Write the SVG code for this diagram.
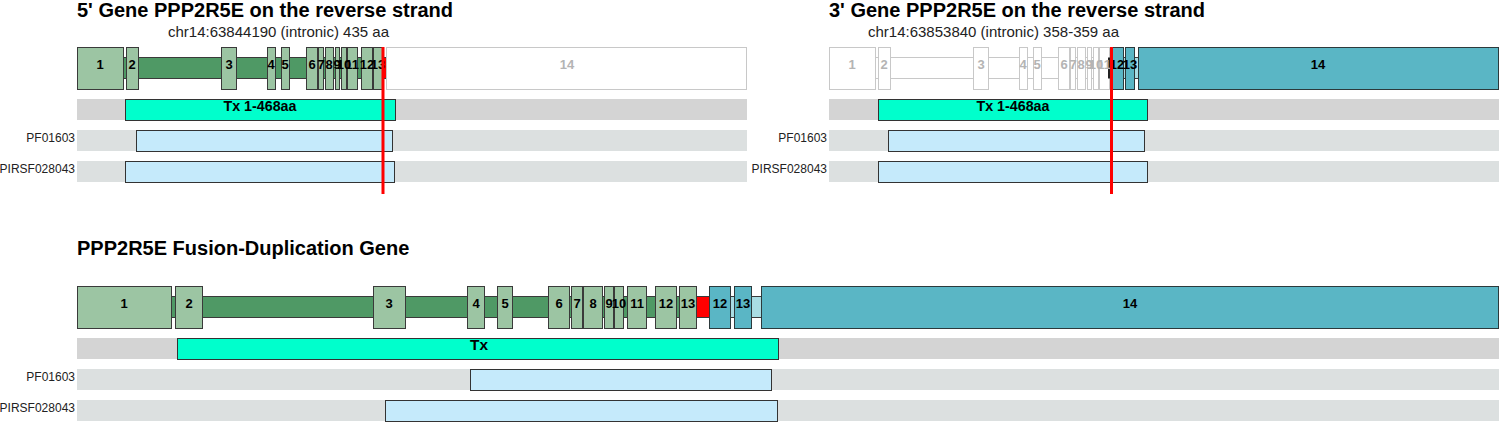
<svg xmlns="http://www.w3.org/2000/svg" width="1500" height="422" viewBox="0 0 1500 422">
<style>
text{font-family:"Liberation Sans",Arial,sans-serif}
.h{font-size:20px;font-weight:bold;fill:#000}
.sub{font-size:15px;fill:#222}
.ex{fill:#9cc5a3;stroke:#3a3a3a;stroke-width:1}
.in{fill:#4f9965;stroke:#3a3a3a;stroke-width:1}
.exo{fill:#fff;stroke:#c8c8c8;stroke-width:1}
.ext{fill:#5ab6c5;stroke:#2c3a3c;stroke-width:1}
.int{fill:#a9dde3;stroke:#3a3a3a;stroke-width:1}
.bp{fill:#ff0000;stroke:#3a3a3a;stroke-width:1}
.el{font-size:13px;font-weight:bold;text-anchor:middle;fill:#000}
.elg{font-size:13px;font-weight:bold;text-anchor:middle;fill:#b4b4b4}
.bg1{fill:#d4d4d4}
.bg2{fill:#dce0e0}
.tx{fill:#00ffcc;stroke:#333;stroke-width:1}
.dom{fill:#c5eafb;stroke:#333;stroke-width:1}
.dl{font-size:12px;text-anchor:end;fill:#222}
.tl{font-size:14px;font-weight:bold;text-anchor:middle;fill:#000}
.red{stroke:#ff0000;stroke-width:3}
</style>

<g id="titles">
<text class="h" x="77" y="17">5' Gene PPP2R5E on the reverse strand</text>
<text class="sub" x="168" y="37">chr14:63844190 (intronic) 435 aa</text>
<text class="h" x="829" y="17">3' Gene PPP2R5E on the reverse strand</text>
<text class="sub" x="868" y="37">chr14:63853840 (intronic) 358-359 aa</text>
<text class="h" x="77" y="255">PPP2R5E Fusion-Duplication Gene</text>
</g>

<g id="gene5">
<rect class="in" x="122.5" y="57.5" width="260" height="21"/>
<rect class="ex" x="77.5" y="47.5" width="46" height="42"/>
<rect class="ex" x="126.5" y="47.5" width="12" height="42"/>
<rect class="ex" x="221.5" y="47.5" width="15" height="42"/>
<rect class="ex" x="267.5" y="47.5" width="8" height="42"/>
<rect class="ex" x="281.5" y="47.5" width="8" height="42"/>
<rect class="ex" x="306.5" y="47.5" width="11" height="42"/>
<rect class="ex" x="318.5" y="47.5" width="5" height="42"/>
<rect class="ex" x="325.5" y="47.5" width="8" height="42"/>
<rect class="ex" x="335.5" y="47.5" width="4" height="42"/>
<rect class="ex" x="341.5" y="47.5" width="5" height="42"/>
<rect class="ex" x="347.5" y="47.5" width="10" height="42"/>
<rect class="ex" x="361.5" y="47.5" width="11" height="42"/>
<rect class="ex" x="373.5" y="47.5" width="9" height="42"/>
<rect class="bp" x="382.5" y="57.5" width="4" height="21"/>
<rect class="exo" x="386.5" y="47.5" width="360" height="42"/>
<text class="el" x="100" y="69">1</text>
<text class="el" x="132" y="69">2</text>
<text class="el" x="229" y="69">3</text>
<text class="el" x="271" y="69">4</text>
<text class="el" x="285" y="69">5</text>
<text class="el" x="312" y="69">6</text>
<text class="el" x="321" y="69">7</text>
<text class="el" x="329" y="69">8</text>
<text class="el" x="337" y="69">9</text>
<text class="el" x="344" y="69">10</text>
<text class="el" x="352" y="69">11</text>
<text class="el" x="367" y="69">12</text>
<text class="el" x="378" y="69">13</text>
<text class="elg" x="567" y="69">14</text>
</g>

<g id="domains5">
<rect class="bg1" x="77" y="99" width="670" height="21"/>
<rect class="tx" x="125.5" y="99.5" width="270" height="21"/>
<text class="tl" x="260" y="111" textLength="73" lengthAdjust="spacingAndGlyphs">Tx 1-468aa</text>
<rect class="bg2" x="77" y="130" width="670" height="21"/>
<rect class="dom" x="136.5" y="130.5" width="256" height="21"/>
<text class="dl" x="75" y="142">PF01603</text>
<rect class="bg2" x="77" y="161" width="670" height="21"/>
<rect class="dom" x="125.5" y="161.5" width="269" height="21"/>
<text class="dl" x="75" y="173">PIRSF028043</text>
</g>

<g id="gene3" transform="translate(752,0)">
<rect class="exo" x="122.5" y="57.5" width="238" height="21"/>
<rect class="int" x="370.5" y="57.5" width="16" height="21"/>
<rect class="exo" x="77.5" y="47.5" width="46" height="42"/>
<rect class="exo" x="126.5" y="47.5" width="12" height="42"/>
<rect class="exo" x="221.5" y="47.5" width="15" height="42"/>
<rect class="exo" x="267.5" y="47.5" width="8" height="42"/>
<rect class="exo" x="281.5" y="47.5" width="8" height="42"/>
<rect class="exo" x="306.5" y="47.5" width="11" height="42"/>
<rect class="exo" x="318.5" y="47.5" width="5" height="42"/>
<rect class="exo" x="325.5" y="47.5" width="8" height="42"/>
<rect class="exo" x="335.5" y="47.5" width="4" height="42"/>
<rect class="exo" x="341.5" y="47.5" width="5" height="42"/>
<rect class="exo" x="347.5" y="47.5" width="10" height="42"/>
<rect x="356" y="57.5" width="3.5" height="21" fill="#222"/>
<rect class="ext" x="359.5" y="47.5" width="12" height="42"/>
<rect class="ext" x="373.5" y="47.5" width="9" height="42"/>
<rect class="ext" x="386.5" y="47.5" width="360" height="42"/>
<text class="elg" x="100" y="69">1</text>
<text class="elg" x="132" y="69">2</text>
<text class="elg" x="229" y="69">3</text>
<text class="elg" x="271" y="69">4</text>
<text class="elg" x="285" y="69">5</text>
<text class="elg" x="312" y="69">6</text>
<text class="elg" x="321" y="69">7</text>
<text class="elg" x="329" y="69">8</text>
<text class="elg" x="337" y="69">9</text>
<text class="elg" x="344" y="69">10</text>
<text class="elg" x="352" y="69">11</text>
<text class="el" x="365" y="69">12</text>
<text class="el" x="378" y="69">13</text>
<text class="el" x="566" y="69">14</text>
</g>

<g id="domains3" transform="translate(752,0)">
<rect class="bg1" x="77" y="99" width="670" height="21"/>
<rect class="tx" x="126.5" y="99.5" width="269" height="21"/>
<text class="tl" x="261" y="111" textLength="73" lengthAdjust="spacingAndGlyphs">Tx 1-468aa</text>
<rect class="bg2" x="77" y="130" width="670" height="21"/>
<rect class="dom" x="136.5" y="130.5" width="256" height="21"/>
<text class="dl" x="75" y="142">PF01603</text>
<rect class="bg2" x="77" y="161" width="670" height="21"/>
<rect class="dom" x="126.5" y="161.5" width="269" height="21"/>
<text class="dl" x="75" y="173">PIRSF028043</text>
</g>

<g id="fusion">
<rect class="in" x="170.5" y="296.5" width="526" height="21"/>
<rect class="int" x="729.5" y="296.5" width="32" height="21"/>
<rect class="ex" x="77.5" y="286.5" width="94" height="42"/>
<rect class="ex" x="175.5" y="286.5" width="27" height="42"/>
<rect class="ex" x="373.5" y="286.5" width="32" height="42"/>
<rect class="ex" x="467.5" y="286.5" width="17" height="42"/>
<rect class="ex" x="497.5" y="286.5" width="15" height="42"/>
<rect class="ex" x="548.5" y="286.5" width="21" height="42"/>
<rect class="ex" x="571.5" y="286.5" width="11" height="42"/>
<rect class="ex" x="583.5" y="286.5" width="19" height="42"/>
<rect class="ex" x="604.5" y="286.5" width="9" height="42"/>
<rect class="ex" x="614.5" y="286.5" width="9" height="42"/>
<rect class="ex" x="627.5" y="286.5" width="19" height="42"/>
<rect class="ex" x="655.5" y="286.5" width="21" height="42"/>
<rect class="ex" x="679.5" y="286.5" width="17" height="42"/>
<rect class="bp" x="696.5" y="296.5" width="13" height="21"/>
<rect class="ext" x="709.5" y="286.5" width="21" height="42"/>
<rect class="ext" x="734.5" y="286.5" width="17" height="42"/>
<rect class="ext" x="761.5" y="286.5" width="737" height="42"/>
<text class="el" x="124" y="308">1</text>
<text class="el" x="189" y="308">2</text>
<text class="el" x="389" y="308">3</text>
<text class="el" x="476" y="308">4</text>
<text class="el" x="505" y="308">5</text>
<text class="el" x="559" y="308">6</text>
<text class="el" x="577" y="308">7</text>
<text class="el" x="593" y="308">8</text>
<text class="el" x="609" y="308">9</text>
<text class="el" x="619" y="308">10</text>
<text class="el" x="637" y="308">11</text>
<text class="el" x="666" y="308">12</text>
<text class="el" x="688" y="308">13</text>
<text class="el" x="720" y="308">12</text>
<text class="el" x="743" y="308">13</text>
<text class="el" x="1130" y="308">14</text>
</g>

<g id="domainsF">
<rect class="bg1" x="77" y="338" width="1422" height="21"/>
<rect class="tx" x="177.5" y="338.5" width="601" height="21"/>
<text class="tl" x="479" y="350" textLength="18" lengthAdjust="spacingAndGlyphs">Tx</text>
<rect class="bg2" x="77" y="369" width="1422" height="21"/>
<rect class="dom" x="470.5" y="369.5" width="301" height="21"/>
<text class="dl" x="75" y="381">PF01603</text>
<rect class="bg2" x="77" y="400" width="1422" height="21"/>
<rect class="dom" x="385.5" y="400.5" width="392" height="21"/>
<text class="dl" x="75" y="412">PIRSF028043</text>
</g>

<g id="connectors">
<line class="red" x1="383" y1="47" x2="383" y2="194"/>
<line class="red" x1="1111.5" y1="47" x2="1111.5" y2="194"/>
</g>
</svg>
